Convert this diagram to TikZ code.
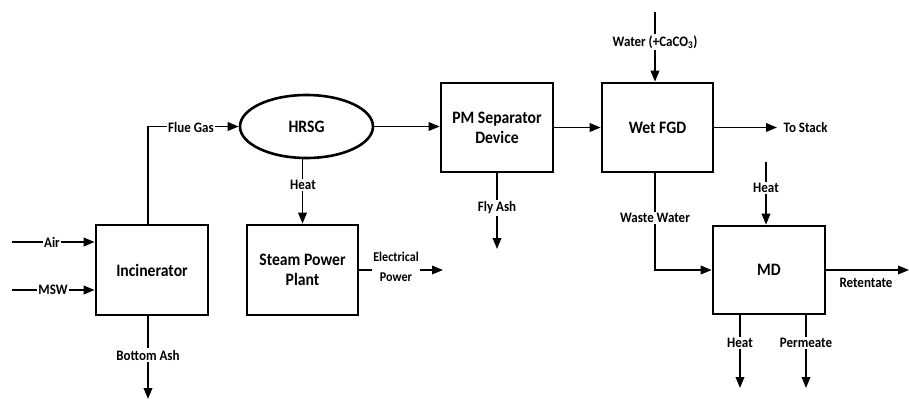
\documentclass[tikz,border=0pt]{standalone}
\usepackage{fontspec}
\setmainfont[FakeStretch=0.9]{Carlito}
\usetikzlibrary{arrows.meta,shapes.geometric}
\begin{document}
\begin{tikzpicture}[x=1bp,y=-1bp,
  box/.style={draw, line width=2.6bp, inner sep=2bp, align=center,
    font=\fontsize{17.5}{20}\selectfont\bfseries},
  flow/.style={line width=1.9bp, -{Triangle[length=11bp,width=8.5bp]}},
  lab/.style={fill=white, inner sep=1.5bp, align=center,
    font=\fontsize{14.5}{16}\selectfont\bfseries},
  plain/.style={inner sep=1.5bp, align=center,
    font=\fontsize{14.5}{16}\selectfont\bfseries}]
\useasboundingbox (0,0) rectangle (909,401);
% process nodes
\node[box, minimum width=112bp, minimum height=90bp] (inc) at (152,270) {Incinerator};
\node[box, minimum width=111bp, minimum height=90bp] (steam) at (302.5,270) {Steam Power\\Plant};
\node[box, ellipse, minimum width=133bp, minimum height=63bp] (hrsg) at (306.5,126.5) {HRSG};
\node[box, minimum width=112bp, minimum height=89bp] (pm) at (497,127.5) {PM Separator\\Device};
\node[box, minimum width=111bp, minimum height=89bp] (fgd) at (657.5,127.5) {Wet FGD};
\node[box, minimum width=112bp, minimum height=88bp] (md) at (769,270) {MD};
% free ends
\coordinate (airS) at (12,242);
\coordinate (mswS) at (12,290);
\coordinate (ashE) at (148,399);
\coordinate (fgx) at (148,127);
\coordinate (epE) at (443,270);
\coordinate (watS) at (655,12);
\coordinate (stackE) at (777,127.5);
\coordinate (flyE) at (497,249);
\coordinate (wwx) at (655,270);
\coordinate (mdhS) at (766,162);
\coordinate (retE) at (909,270);
\coordinate (hoE) at (740,388);
\coordinate (peE) at (806,388);
% connectors
\draw[flow] (airS) -- (inc.west |- airS);
\draw[flow] (mswS) -- (inc.west |- mswS);
\draw[flow] (inc.south -| ashE) -- (ashE);
\draw[flow] (inc.north -| fgx) |- (hrsg.west);
\draw[flow] (hrsg.east) -- (pm.west |- hrsg.east);
\draw[flow] (steam.north |- hrsg.south) -- (steam.north);
\draw[flow] (steam.east) -- (epE);
\draw[flow] (pm.east) -- (fgd.west);
\draw[flow] (watS) -- (watS |- fgd.north);
\draw[flow] (fgd.east) -- (stackE);
\draw[flow] (pm.south) -- (flyE);
\draw[flow] (fgd.south -| wwx) |- (md.west);
\draw[flow] (mdhS) -- (mdhS |- md.north);
\draw[flow] (md.east) -- (retE);
\draw[flow] (md.south -| hoE) -- (hoE);
\draw[flow] (md.south -| peE) -- (peE);
% labels
\node[lab] (lair) at (52,242) {Air};
\node[lab] (lmsw) at (53,290) {MSW};
\node[lab] (lash) at (148,355) {Bottom Ash};
\node[lab] (lfg) at (191,127) {Flue Gas};
\node[lab] (lheat) at (303,185) {Heat};
\node[lab, font=\fontsize{13.5}{20}\selectfont\bfseries] (lep) at (396,267) {Electrical\\Power};
\node[lab] (lwat) at (655,42) {Water (+CaCO\textsubscript{3})};
\node[plain, anchor=west] (lstack) at (782,127.5) {To Stack};
\node[lab] (lfly) at (497,208) {Fly Ash};
\node[lab] (lww) at (655,218) {Waste Water};
\node[lab] (lmdh) at (766,188) {Heat};
\node[plain] (lret) at (866,283) {Retentate};
\node[lab] (lho) at (740,343) {Heat};
\node[lab] (lpe) at (806,343) {Permeate};
\end{tikzpicture}
\end{document}
